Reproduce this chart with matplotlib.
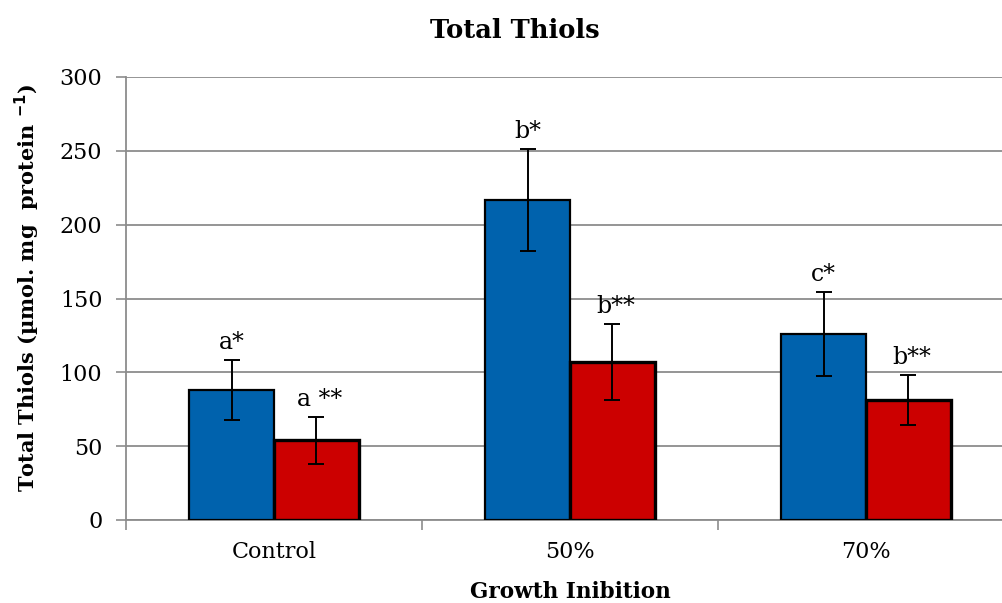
import matplotlib
matplotlib.use("Agg")
import matplotlib.pyplot as plt
import numpy as np

categories = ["Control", "50%", "70%"]
series1 = [88, 217, 126]
series1_err = [20.5, 34.5, 28.5]
series1_labels = ["a*", "b*", "c*"]
series2 = [54, 107, 81]
series2_err = [16, 25.5, 17]
series2_labels = ["a **", "b**", "b**"]
yticks = [0, 50, 100, 150, 200, 250, 300]

plt.rcParams['font.family'] = ['DejaVu Serif']

W, H = 1003, 603
fig = plt.figure(figsize=(W/100, H/100), dpi=100)
left, right, top, bottom = 126, 1014, 77, 520
ax = fig.add_axes([left/W, 1 - bottom/H, (right-left)/W, (bottom-top)/H])

x = np.arange(len(categories))
bw = 0.287
ax.set_axisbelow(True)
ax.yaxis.grid(True, color='#8c8c8c', linewidth=1.3)
ekw = dict(elinewidth=1.4, capsize=6, capthick=1.4, ecolor='black')
ax.bar(x - bw/2, series1, bw, color='#0062AD', edgecolor='black', linewidth=1.6,
       yerr=series1_err, error_kw=ekw, zorder=3)
ax.bar(x + bw/2, series2, bw, color='#CC0000', edgecolor='black', linewidth=2.4,
       yerr=series2_err, error_kw=ekw, zorder=3)

for i in range(len(categories)):
    ax.text(x[i] - bw/2, series1[i] + series1_err[i] + 7.5, series1_labels[i],
            ha='center', va='baseline', fontsize=17)
    ax.text(x[i] + bw/2 + 0.01, series2[i] + series2_err[i] + 7.5, series2_labels[i],
            ha='center', va='baseline', fontsize=17)

ax.set_xlim(-0.5, 2.5)
ax.set_ylim(0, 300)
ax.set_yticks(yticks)
ax.tick_params(axis='y', labelsize=16, length=7, color='#8c8c8c', width=1.2, pad=10)
ax.set_xticks(x)
ax.set_xticklabels(categories)
ax.tick_params(axis='x', which='major', labelsize=16, length=0, pad=15)
ax.set_xticks([-0.5, 0.5, 1.5], minor=True)
ax.tick_params(axis='x', which='minor', length=7, color='#8c8c8c', width=1.2)
for s in ['top', 'right']:
    ax.spines[s].set_visible(False)
for s in ['left', 'bottom']:
    ax.spines[s].set_color('#8c8c8c')
    ax.spines[s].set_linewidth(1.3)

fig.text(570/W, 1 - 592/H, "Growth Inibition", ha='center', va='center',
         fontsize=15.5, fontweight='bold')
fig.text(27/W, 1 - 288/H, r"Total Thiols (µmol. mg  protein $^{\mathbf{-1}}$)",
         ha='center', va='center', rotation=90, fontsize=15, fontweight='bold')
fig.text(515/W, 1 - 30/H, "Total Thiols", ha='center', va='center',
         fontsize=18.5, fontweight='bold')

fig.savefig("out.png", dpi=100)
